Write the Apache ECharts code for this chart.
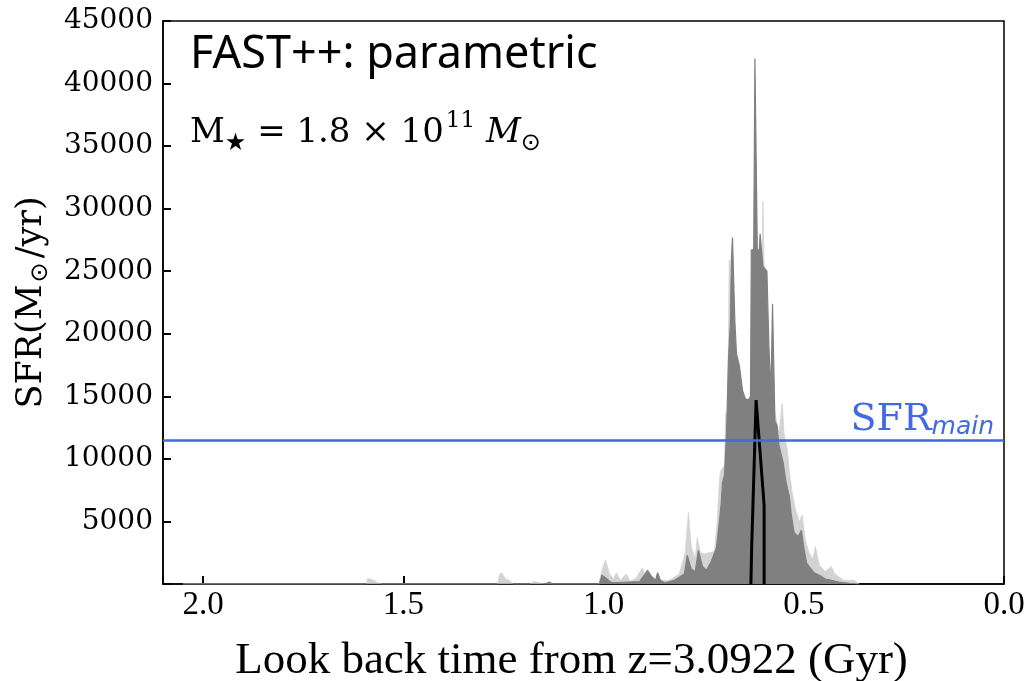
<!DOCTYPE html>
<html>
<head>
<meta charset="utf-8">
<script src="https://cdn.jsdelivr.net/npm/echarts@6/dist/echarts.min.js"></script>
<style>
  html, body { margin: 0; padding: 0; background: #fff; }
  #chart { width: 1029px; height: 681px; }
</style>
</head>
<body>
<div id="chart"></div>
<script>
// look back time (Gyr) and SFR (Msun/yr)
const lightAge = [2.050, 1.592, 1.589, 1.574, 1.564, 1.554, 1.265, 1.259, 1.254, 1.245, 1.235, 1.225,
  1.185, 1.172, 1.160, 1.147, 1.012, 1.003, 0.995, 0.985, 0.975, 0.968, 0.958, 0.943, 0.933, 0.918,
  0.903, 0.893, 0.880, 0.860, 0.835, 0.811, 0.796, 0.788, 0.781, 0.771, 0.766, 0.758, 0.748, 0.736,
  0.723, 0.716, 0.711, 0.708, 0.698, 0.695, 0.691, 0.686, 0.682, 0.678, 0.648, 0.621, 0.606, 0.602,
  0.599, 0.596, 0.587, 0.574, 0.562, 0.554, 0.549, 0.541, 0.536, 0.529, 0.521, 0.511, 0.504, 0.496,
  0.487, 0.477, 0.471, 0.461, 0.446, 0.431, 0.423, 0.400, 0.374, 0.362];
const lightSfr = [0, 0, 450, 300, 100, 0, 0, 800, 900, 400, 300, 0,
  0, 200, 100, 0, 0, 1200, 1900, 800, 400, 900, 300, 800, 200, 500,
  1300, 300, 200, 300, 300, 800, 2500, 5700, 3000, 2000, 3700, 2500, 2400, 2500,
  2600, 5000, 8000, 9000, 9500, 13700, 10000, 25900, 25900, 20000, 13000, 15000, 22000, 30600,
  30600, 20000, 17000, 14000, 12000, 14400, 12000, 10700, 9000, 7300, 6000, 5000, 5500, 3500,
  2500, 2000, 3000, 1500, 1000, 1400, 800, 300, 300, 0];

const darkAge = [2.050, 1.147, 1.135, 1.127, 1.010, 1.004, 0.995, 0.988, 0.980, 0.910, 0.890, 0.880,
  0.870, 0.865, 0.858, 0.848, 0.823, 0.798, 0.791, 0.781, 0.771, 0.763, 0.753, 0.743, 0.731, 0.718,
  0.711, 0.706, 0.703, 0.698, 0.693, 0.688, 0.683, 0.681, 0.678, 0.675, 0.672, 0.668, 0.661, 0.653,
  0.646, 0.638, 0.633, 0.631, 0.625, 0.622, 0.618, 0.616, 0.611, 0.609, 0.605, 0.602, 0.592, 0.587,
  0.582, 0.578, 0.574, 0.572, 0.567, 0.562, 0.552, 0.544, 0.536, 0.531, 0.524, 0.514, 0.506, 0.499,
  0.493, 0.487, 0.474, 0.461, 0.446, 0.431, 0.413, 0.387, 0.362];
const darkSfr = [0, 0, 150, 0, 0, 700, 500, 300, 100, 200, 1100, 600,
  300, 900, 300, 100, 300, 800, 2300, 1200, 1000, 2700, 1400, 1100, 1800, 2900,
  4900, 6500, 8100, 8700, 12000, 18000, 21000, 25700, 27700, 27700, 21000, 18400, 17500, 15500,
  14800, 14700, 15000, 26700, 26700, 42000, 42000, 26700, 26700, 28000, 28000, 25400, 25000, 19000,
  15300, 22400, 22400, 13000, 12700, 11100, 9800, 8100, 7000, 5500, 4100, 3800, 4300, 2700,
  1700, 1400, 900, 700, 400, 300, 150, 60, 0];

const bestAge = [0.632, 0.630, 0.619, 0.599, 0.599];
const bestSfr = [0, 3000, 14700, 6300, 0];

const sfrMain = 11500;
const xTicks = [0.0, 0.5, 1.0, 1.5, 2.0];
const yTicks = [5000, 10000, 15000, 20000, 25000, 30000, 35000, 40000, 45000];

function zip(a, b) {
  return a.map((v, i) => [v, b[i]]);
}

const chart = echarts.init(document.getElementById('chart'), null, {renderer: 'canvas'});

const option = {
  animation: false,
  backgroundColor: '#fff',
  grid: {
    left: 163, right: 25, top: 21, bottom: 97,
    outerBoundsMode: 'none',
    show: true, borderColor: '#000', borderWidth: 1.5, backgroundColor: 'transparent'
  },
  xAxis: {
    type: 'value',
    min: 0, max: 2.1, interval: 0.5, inverse: true,
    axisLine: {show: true, onZero: false, lineStyle: {color: '#000', width: 1.5}},
    axisTick: {show: true, inside: true, length: 8, lineStyle: {color: '#000', width: 2}},
    splitLine: {show: false},
    axisLabel: {
      margin: 5,
      color: '#000',
      fontFamily: 'Liberation Serif',
      fontSize: 33,
      formatter: v => xTicks.some(t => Math.abs(t - v) < 1e-6) ? v.toFixed(1) : ''
    },
    name: 'Look back time from z=3.0922 (Gyr)',
    nameLocation: 'middle',
    nameGap: 55,
    nameTextStyle: {fontFamily: 'Liberation Serif', fontSize: 45, color: '#000', padding: [0, 24, 0, 0]}
  },
  yAxis: {
    type: 'value',
    min: 0, max: 45000, interval: 5000,
    axisLine: {show: true, onZero: false, lineStyle: {color: '#000', width: 1.5}},
    axisTick: {show: true, inside: true, length: 8, lineStyle: {color: '#000', width: 2}},
    splitLine: {show: false},
    axisLabel: {
      margin: 10,
      color: '#000',
      fontFamily: 'DejaVu Serif',
      fontSize: 28,
      formatter: v => yTicks.indexOf(v) >= 0 ? String(v) : ''
    },
    name: '{a|SFR(M}{s|⊙}{a|/yr)}',
    nameLocation: 'middle',
    nameGap: 109,
    nameRotate: 90,
    nameTextStyle: {
      rich: {
        a: {fontFamily: 'DejaVu Serif', fontSize: 35, color: '#000', lineHeight: 42},
        s: {fontFamily: 'DejaVu Sans', fontSize: 24, color: '#000', lineHeight: 42, verticalAlign: 'bottom', padding: [10, 4, 0, 2]}
      }
    }
  },
  graphic: [
    {
      type: 'text', left: 190, top: 33,
      style: {text: 'FAST++: parametric', font: '45px "Noto Sans"', fill: '#000'}
    },
    {
      type: 'text', left: 190, top: 110,
      style: {
        text: '{r|M}{sub|★}{r| = 1.8 × 10}{sup|11}{r| }{i|M}{sub|⊙}',
        rich: {
          r: {fontFamily: 'DejaVu Serif', fontSize: 34, fill: '#000', lineHeight: 46, verticalAlign: 'middle'},
          i: {fontFamily: 'DejaVu Serif', fontStyle: 'italic', fontSize: 34, fill: '#000', lineHeight: 46, verticalAlign: 'middle'},
          sub: {fontFamily: 'DejaVu Sans', fontSize: 24, fill: '#000', lineHeight: 46, verticalAlign: 'bottom', padding: [12, 0, 0, 0]},
          sup: {fontFamily: 'DejaVu Serif', fontSize: 23, fill: '#000', lineHeight: 46, verticalAlign: 'top', padding: [0, 0, 14, 2]}
        }
      }
    }
  ],
  series: [
    {
      name: 'light',
      type: 'line',
      data: zip(lightAge, lightSfr),
      symbol: 'none',
      silent: true,
      lineStyle: {color: '#d3d3d3', width: 0.8},
      areaStyle: {color: '#d3d3d3', opacity: 1},
      z: 1
    },
    {
      name: 'dark',
      type: 'line',
      data: zip(darkAge, darkSfr),
      symbol: 'none',
      silent: true,
      lineStyle: {color: '#808080', width: 1.2},
      areaStyle: {color: '#808080', opacity: 1},
      z: 2
    },
    {
      name: 'best',
      type: 'line',
      data: zip(bestAge, bestSfr),
      symbol: 'none',
      silent: true,
      lineStyle: {color: '#000', width: 3},
      z: 4,
      markLine: {
        silent: true,
        symbol: 'none',
        lineStyle: {color: '#4169e1', width: 2.5, type: 'solid'},
        data: [{yAxis: sfrMain}],
        label: {
          position: 'insideStartTop',
          distance: [10, 0],
          formatter: '{a|SFR}{b|main}',
          rich: {
            a: {fontFamily: 'DejaVu Serif', fontSize: 38, color: '#4169e1', lineHeight: 40},
            b: {fontFamily: 'DejaVu Sans', fontStyle: 'italic', fontSize: 25, color: '#4169e1', lineHeight: 40, verticalAlign: 'bottom', padding: [8, 0, 0, 0]}
          }
        }
      }
    }
  ]
};

chart.setOption(option);
</script>
</body>
</html>
